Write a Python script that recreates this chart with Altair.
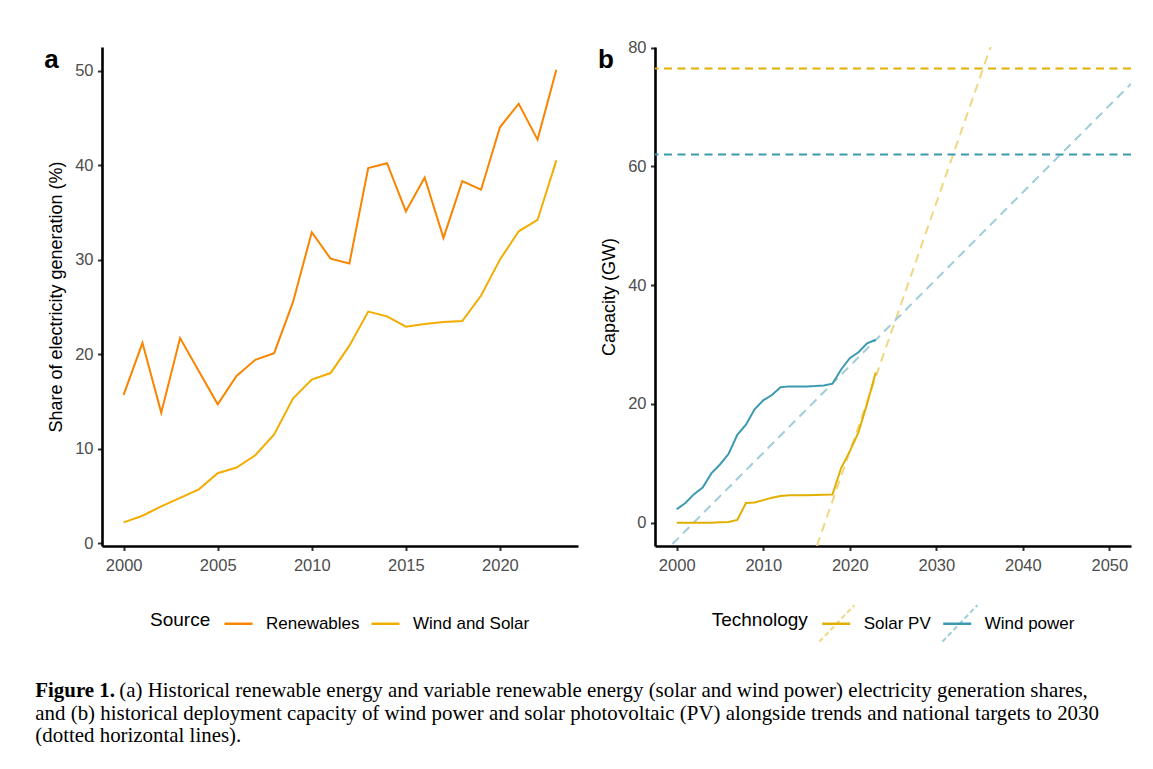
import altair as alt
import pandas as pd

FONT = "Liberation Sans"
SERIF = "Liberation Serif"

# ---------------- Panel a data ----------------
years_a = list(range(2000, 2024))
renewables_share = [15.7, 21.2, 13.8, 21.7, 18.2, 14.7, 17.7, 19.4, 20.1, 25.5,
                    32.9, 30.1, 29.6, 39.7, 40.2, 35.1, 38.7, 32.3, 38.3, 37.4,
                    44.0, 46.5, 42.7, 50.1]
wind_solar_share = [2.2, 2.9, 3.9, 4.8, 5.7, 7.4, 8.0, 9.3, 11.5, 15.3,
                    17.3, 18.0, 20.9, 24.5, 24.0, 22.9, 23.2, 23.4, 23.5, 26.2,
                    30.0, 33.0, 34.2, 40.5]
sources = ["Renewables", "Wind and Solar"]
source_colors = ["#F98400", "#F2AD00"]

# ---------------- Panel b data ----------------
years_b = list(range(2000, 2024))
solar_gw = [0.0, 0.0, 0.0, 0.0, 0.0, 0.05, 0.1, 0.45, 3.3, 3.4,
            3.8, 4.2, 4.5, 4.6, 4.6, 4.6, 4.65, 4.7, 4.75, 9.2,
            12.0, 15.2, 20.0, 25.3]
wind_gw = [2.25, 3.3, 4.8, 5.9, 8.3, 9.8, 11.6, 14.8, 16.5, 19.1,
           20.6, 21.5, 22.8, 22.95, 22.95, 22.95, 23.0, 23.1, 23.4, 25.8,
           27.7, 28.7, 30.2, 30.8]
technologies = ["Solar PV", "Wind power"]
tech_colors = ["#E1AF00", "#3B9AB2"]
trend_names = ["Solar PV trend", "Wind power trend"]
trend_colors = ["#F0D780", "#9DCDD9"]

solar_trend_years = [2016.2, 2036.3]
solar_trend_gw = [-3.9, 80.2]
wind_trend_years = [1999.5, 2052.5]
wind_trend_gw = [-3.6, 73.9]

target_gw = [76.5, 62.0]

caption_bold = "Figure 1."
caption_line1 = ("(a) Historical renewable energy and variable renewable energy "
                 "(solar and wind power) electricity generation shares,")
caption_line2 = ("and (b) historical deployment capacity of wind power and solar "
                 "photovoltaic (PV) alongside trends and national targets to 2030")
caption_line3 = "(dotted horizontal lines)."

# ---------------- tables ----------------
df_a = pd.DataFrame({
    "Year": years_a + years_a,
    "Share": renewables_share + wind_solar_share,
    "Source": [sources[0]] * len(years_a) + [sources[1]] * len(years_a),
})
df_b = pd.DataFrame({
    "Year": years_b + years_b,
    "GW": solar_gw + wind_gw,
    "Technology": [technologies[0]] * len(years_b) + [technologies[1]] * len(years_b),
})
df_trend = pd.DataFrame({
    "Year": solar_trend_years + wind_trend_years,
    "GW": solar_trend_gw + wind_trend_gw,
    "Trend": [trend_names[0]] * 2 + [trend_names[1]] * 2,
})
df_target = pd.DataFrame({"GW": target_gw, "Technology": technologies})

W, H = 476, 499
LEG_Y = 561

# ---------------- Panel a ----------------
legend_a = alt.Legend(orient="none", legendX=48, legendY=LEG_Y, direction="horizontal",
                      titleOrient="left", titleAnchor="middle", titleBaseline="middle",
                      symbolType="stroke", symbolSize=784, symbolStrokeWidth=2.5)
lines_a = alt.Chart(df_a).mark_line(strokeWidth=2).encode(
    x=alt.X("Year:Q", scale=alt.Scale(domain=[1998.85, 2024.15], nice=False, zero=False),
            axis=alt.Axis(values=[2000, 2005, 2010, 2015, 2020], format="d", title=None)),
    y=alt.Y("Share:Q", scale=alt.Scale(domain=[-0.3, 52.5], nice=False, zero=False),
            axis=alt.Axis(values=[0, 10, 20, 30, 40, 50], title="Share of electricity generation (%)")),
    color=alt.Color("Source:N", scale=alt.Scale(domain=sources, range=source_colors),
                    legend=legend_a, title="Source"),
)
tag_a = alt.Chart(pd.DataFrame({"t": ["a"]})).mark_text(
    font=FONT, fontSize=26, fontWeight="bold", align="left", baseline="alphabetic", color="black"
).encode(text="t:N", x=alt.value(-57.7), y=alt.value(20.7))
panel_a = alt.layer(lines_a, tag_a).properties(width=W, height=H)

# ---------------- Panel b ----------------
xb = alt.X("Year:Q", scale=alt.Scale(domain=[1997.49, 2052.5], nice=False, zero=False),
           axis=alt.Axis(values=[2000, 2010, 2020, 2030, 2040, 2050], format="d", title=None))
yb = alt.Y("GW:Q", scale=alt.Scale(domain=[-3.93, 80.1], nice=False, zero=False),
           axis=alt.Axis(values=[0, 20, 40, 60, 80], title="Capacity (GW)"))

legend_b = alt.Legend(orient="none", legendX=56.7, legendY=LEG_Y, direction="horizontal",
                      titleOrient="left", titleAnchor="middle", titleBaseline="middle",
                      symbolType="stroke", symbolSize=784, symbolStrokeWidth=2.5)
# key overlay for the dashed trend lines (drawn across the colour keys)
legend_trend = alt.Legend(orient="none", legendX=166.9, legendY=LEG_Y, direction="horizontal",
                          title=None, symbolType="M-1.25,1.3L1.25,-1.3",
                          symbolSize=784, symbolStrokeWidth=2, symbolDash=[5, 3],
                          labelExpr="replace(datum.label, ' trend', '')",
                          labelOpacity=0)

tech_scale = alt.Scale(domain=technologies, range=tech_colors)

trend_b = alt.Chart(df_trend).mark_line(strokeWidth=2, strokeDash=[9, 6], clip=True).encode(
    x=xb, y=yb,
    stroke=alt.Stroke("Trend:N", scale=alt.Scale(domain=trend_names, range=trend_colors),
                      legend=legend_trend),
    detail="Trend:N",
)
lines_b = alt.Chart(df_b).mark_line(strokeWidth=2).encode(
    x=xb, y=yb,
    color=alt.Color("Technology:N", scale=tech_scale, legend=legend_b, title="Technology"),
)
target_b = alt.Chart(df_target).mark_rule(strokeWidth=2, strokeDash=[8, 5.5]).encode(
    y=yb,
    color=alt.Color("Technology:N", scale=tech_scale, legend=legend_b, title="Technology"),
)
tag_b = alt.Chart(pd.DataFrame({"t": ["b"]})).mark_text(
    font=FONT, fontSize=26, fontWeight="bold", align="left", baseline="alphabetic", color="black"
).encode(text="t:N", x=alt.value(-57), y=alt.value(20.7))
panel_b = alt.layer(trend_b, lines_b, target_b, tag_b).properties(width=W, height=H)

# ---------------- Caption ----------------
CAP_X = -66.7


def cap_text(txt, x, y, weight="normal"):
    return alt.Chart(pd.DataFrame({"t": [txt]})).mark_text(
        font=SERIF, fontSize=20.9, fontWeight=weight, align="left",
        baseline="alphabetic", color="black"
    ).encode(text="t:N", x=alt.value(x), y=alt.value(y))


caption = alt.layer(
    cap_text(caption_bold, CAP_X, 14, "bold"),
    cap_text(caption_line1, CAP_X + 84, 14),
    cap_text(caption_line2, CAP_X, 36.5),
    cap_text(caption_line3, CAP_X, 59),
).properties(width=960, height=46)

top = alt.hconcat(panel_a, panel_b, spacing=20).resolve_scale(
    color="independent", stroke="independent"
).resolve_legend(color="independent", stroke="independent")
chart = alt.vconcat(top, caption, spacing=34).resolve_scale(
    color="independent", stroke="independent"
).resolve_legend(color="independent", stroke="independent").properties(
    padding={"left": 27, "top": 31, "right": 0, "bottom": 0}
).configure_view(stroke=None).configure_axis(
    grid=False, domainColor="black", domainWidth=2.6, tickColor="#333333", tickWidth=2,
    tickSize=4.5, labelColor="#4D4D4D", labelFont=FONT, labelFontSize=16.5,
    titleFont=FONT, titleFontSize=18, titleFontWeight="normal", titleColor="black",
    titlePadding=9.5
).configure_axisX(labelPadding=6.5).configure_axisY(labelPadding=4.5).configure_legend(
    titleFont=FONT, titleFontSize=19, titleFontWeight="normal", titleColor="black",
    labelFont=FONT, labelFontSize=17, labelColor="black", titlePadding=12,
    columnPadding=6, labelOffset=12, padding=0
)

chart.save("out.html", embed_options={"renderer": "svg", "actions": False})
